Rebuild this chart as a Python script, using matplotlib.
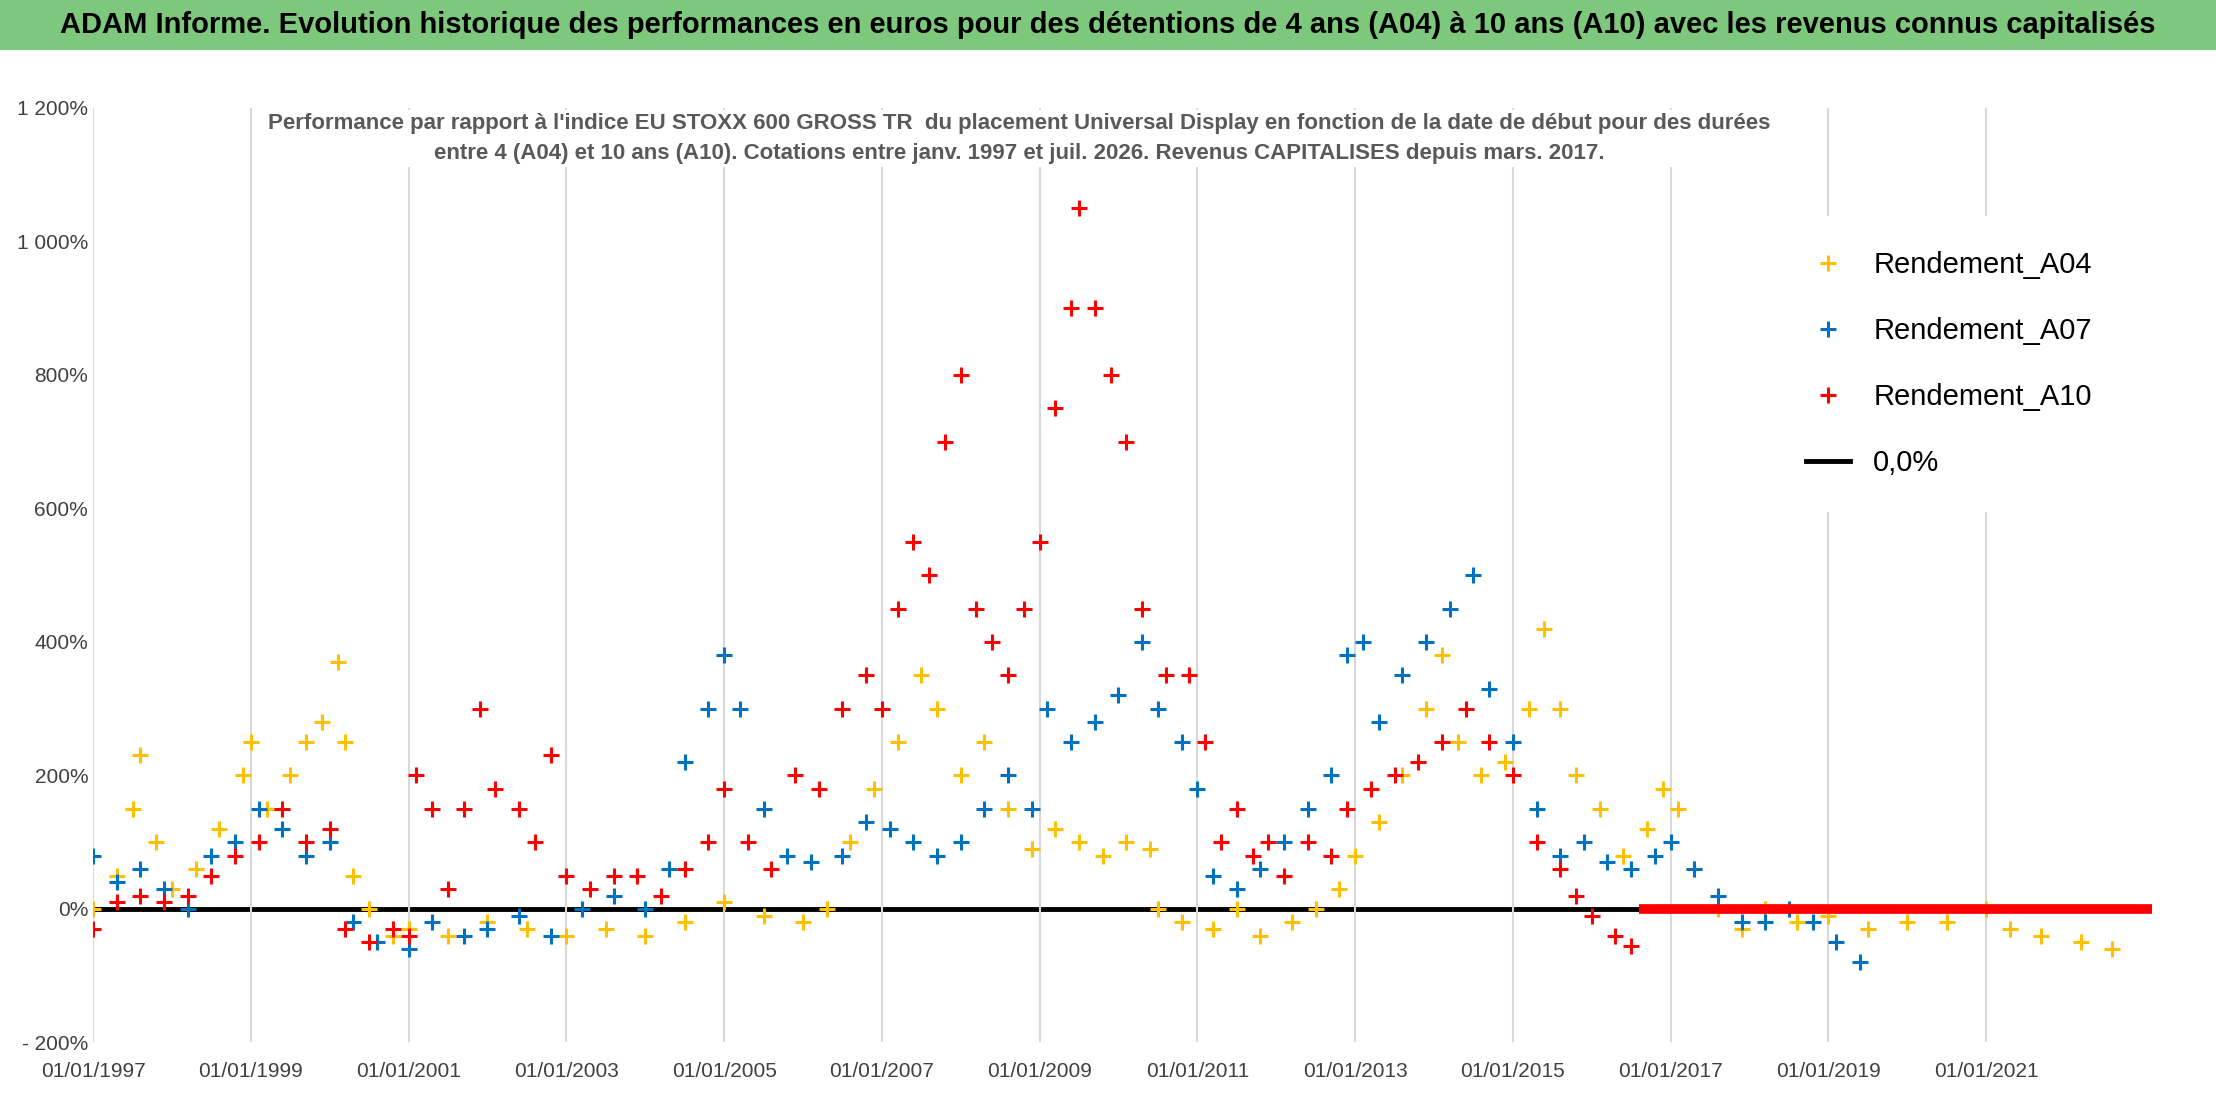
import matplotlib.pyplot as plt
import matplotlib.ticker as mticker
from matplotlib.patches import Rectangle

plt.rcParams["font.family"] = ["Liberation Sans Narrow", "Liberation Sans", "DejaVu Sans"]

# decimal-year dates and performance (%)
A04_X = [1997.0, 1997.3, 1997.5, 1997.6, 1997.8, 1998.0, 1998.3, 1998.6, 1998.9, 1999.0, 1999.2, 1999.5,
         1999.7, 1999.9, 2000.1, 2000.2, 2000.3, 2000.5, 2000.8, 2001.0, 2001.5, 2002.0, 2002.5, 2003.0,
         2003.5, 2004.0, 2004.5, 2005.0, 2005.5, 2006.0, 2006.3, 2006.6, 2006.9, 2007.2, 2007.5, 2007.7,
         2008.0, 2008.3, 2008.6, 2008.9, 2009.2, 2009.5, 2009.8, 2010.1, 2010.4, 2010.5, 2010.8, 2011.2,
         2011.5, 2011.8, 2012.2, 2012.5, 2012.8, 2013.0, 2013.3, 2013.6, 2013.9, 2014.1, 2014.3, 2014.6,
         2014.9, 2015.2, 2015.4, 2015.6, 2015.8, 2016.1, 2016.4, 2016.7, 2016.9, 2017.1, 2017.3, 2017.6,
         2017.9, 2018.2, 2018.6, 2019.0, 2019.5, 2020.0, 2020.5, 2021.0, 2021.3, 2021.7, 2022.2, 2022.6]
A04_Y = [0, 50, 150, 230, 100, 30, 60, 120, 200, 250, 150, 200,
         250, 280, 370, 250, 50, 0, -40, -30, -40, -20, -30, -40,
         -30, -40, -20, 10, -10, -20, 0, 100, 180, 250, 350, 300,
         200, 250, 150, 90, 120, 100, 80, 100, 90, 0, -20, -30,
         0, -40, -20, 0, 30, 80, 130, 200, 300, 380, 250, 200,
         220, 300, 420, 300, 200, 150, 80, 120, 180, 150, 60, 0,
         -30, 0, -20, -10, -30, -20, -20, 0, -30, -40, -50, -60]

A07_X = [1997.0, 1997.3, 1997.6, 1997.9, 1998.2, 1998.5, 1998.8, 1999.1, 1999.4, 1999.7, 2000.0, 2000.3,
         2000.6, 2001.0, 2001.3, 2001.7, 2002.0, 2002.4, 2002.8, 2003.2, 2003.6, 2004.0, 2004.3, 2004.5,
         2004.8, 2005.0, 2005.2, 2005.5, 2005.8, 2006.1, 2006.5, 2006.8, 2007.1, 2007.4, 2007.7, 2008.0,
         2008.3, 2008.6, 2008.9, 2009.1, 2009.4, 2009.7, 2010.0, 2010.3, 2010.5, 2010.8, 2011.0, 2011.2,
         2011.5, 2011.8, 2012.1, 2012.4, 2012.7, 2012.9, 2013.1, 2013.3, 2013.6, 2013.9, 2014.2, 2014.5,
         2014.7, 2015.0, 2015.3, 2015.6, 2015.9, 2016.2, 2016.5, 2016.8, 2017.0, 2017.3, 2017.6, 2017.9,
         2018.2, 2018.5, 2018.8, 2019.1, 2019.4]
A07_Y = [80, 40, 60, 30, 0, 80, 100, 150, 120, 80, 100, -20,
         -50, -60, -20, -40, -30, -10, -40, 0, 20, 0, 60, 220,
         300, 380, 300, 150, 80, 70, 80, 130, 120, 100, 80, 100,
         150, 200, 150, 300, 250, 280, 320, 400, 300, 250, 180, 50,
         30, 60, 100, 150, 200, 380, 400, 280, 350, 400, 450, 500,
         330, 250, 150, 80, 100, 70, 60, 80, 100, 60, 20, -20,
         -20, 0, -20, -50, -80]

A10_X = [1997.0, 1997.3, 1997.6, 1997.9, 1998.2, 1998.5, 1998.8, 1999.1, 1999.4, 1999.7, 2000.0, 2000.2,
         2000.5, 2000.8, 2001.0, 2001.1, 2001.3, 2001.5, 2001.7, 2001.9, 2002.1, 2002.4, 2002.6, 2002.8,
         2003.0, 2003.3, 2003.6, 2003.9, 2004.2, 2004.5, 2004.8, 2005.0, 2005.3, 2005.6, 2005.9, 2006.2,
         2006.5, 2006.8, 2007.0, 2007.2, 2007.4, 2007.6, 2007.8, 2008.0, 2008.2, 2008.4, 2008.6, 2008.8,
         2009.0, 2009.2, 2009.4, 2009.5, 2009.7, 2009.9, 2010.1, 2010.3, 2010.6, 2010.9, 2011.1, 2011.3,
         2011.5, 2011.7, 2011.9, 2012.1, 2012.4, 2012.7, 2012.9, 2013.2, 2013.5, 2013.8, 2014.1, 2014.4,
         2014.7, 2015.0, 2015.3, 2015.6, 2015.8, 2016.0, 2016.3, 2016.5]
A10_Y = [-30, 10, 20, 10, 20, 50, 80, 100, 150, 100, 120, -30,
         -50, -30, -40, 200, 150, 30, 150, 300, 180, 150, 100, 230,
         50, 30, 50, 50, 20, 60, 100, 180, 100, 60, 200, 180,
         300, 350, 300, 450, 550, 500, 700, 800, 450, 400, 350, 450,
         550, 750, 900, 1050, 900, 800, 700, 450, 350, 350, 250, 100,
         150, 80, 100, 50, 100, 80, 150, 180, 200, 220, 250, 300,
         250, 200, 100, 60, 20, -10, -40, -55]
A10_FLAT = [2016.6, 2023.1]  # A10 values stay at 0% over this span

X_TICKS = list(range(1997, 2023, 2))
Y_TICKS = [-200, 0, 200, 400, 600, 800, 1000, 1200]

fig = plt.figure(figsize=(22.16, 11.02), dpi=100)
fig.patches.append(Rectangle((0, 0.955), 1, 0.045, transform=fig.transFigure,
                             facecolor="#7dc87d", edgecolor="none"))
fig.text(0.5, 0.977, "ADAM Informe. Evolution historique des performances en euros pour des détentions de 4 ans (A04) "
         "à 10 ans (A10) avec les revenus connus capitalisés",
         ha="center", va="center", fontsize=21, weight="bold", color="black")

ax = fig.add_axes([0.042, 0.054, 0.929, 0.848])
ax.axhline(0, color="black", lw=3.5, zorder=1)
ax.plot(A04_X, A04_Y, "+", color="#ffc000", ms=12, mew=2.2, label="Rendement_A04", zorder=2)
ax.plot(A07_X, A07_Y, "+", color="#0070c0", ms=12, mew=2.2, label="Rendement_A07", zorder=3)
ax.plot(A10_X, A10_Y, "+", color="#ff0000", ms=12, mew=2.2, label="Rendement_A10", zorder=4)
ax.plot(A10_FLAT, [0, 0], color="#ff0000", lw=7, solid_capstyle="butt", zorder=4)
ax.plot([], [], color="black", lw=3.5, label="0,0%")

ax.set_xlim(1997, 2023.1)
ax.set_ylim(-200, 1200)
ax.set_xticks(X_TICKS)
ax.set_xticklabels([f"01/01/{y}" for y in X_TICKS])
ax.set_yticks(Y_TICKS)
ax.yaxis.set_major_formatter(mticker.FuncFormatter(
    lambda v, p: f"{int(v):,}%".replace(",", " ").replace("-", "- ")))
ax.tick_params(labelsize=15, colors="#404040", length=0)
ax.tick_params(axis="x", pad=14)
ax.grid(axis="x", color="#d9d9d9", lw=1.5)
for s in ax.spines.values():
    s.set_visible(False)

ax.text(0.45, 0.995, "Performance par rapport à l'indice EU STOXX 600 GROSS TR  du placement Universal Display en fonction de la date de début pour des durées\n"
        "entre 4 (A04) et 10 ans (A10). Cotations entre janv. 1997 et juil. 2026. Revenus CAPITALISES depuis mars. 2017.",
        transform=ax.transAxes, ha="center", va="top", fontsize=16, weight="bold", color="#595959",
        linespacing=1.6, bbox=dict(facecolor="white", edgecolor="none", pad=2))

leg = ax.legend(loc="upper right", bbox_to_anchor=(0.995, 0.9), fontsize=21, frameon=True,
                facecolor="white", edgecolor="none", framealpha=1, labelspacing=1.3,
                handlelength=1.5, borderpad=1.2, markerscale=1.0)

fig.savefig("out.png", dpi=100)
